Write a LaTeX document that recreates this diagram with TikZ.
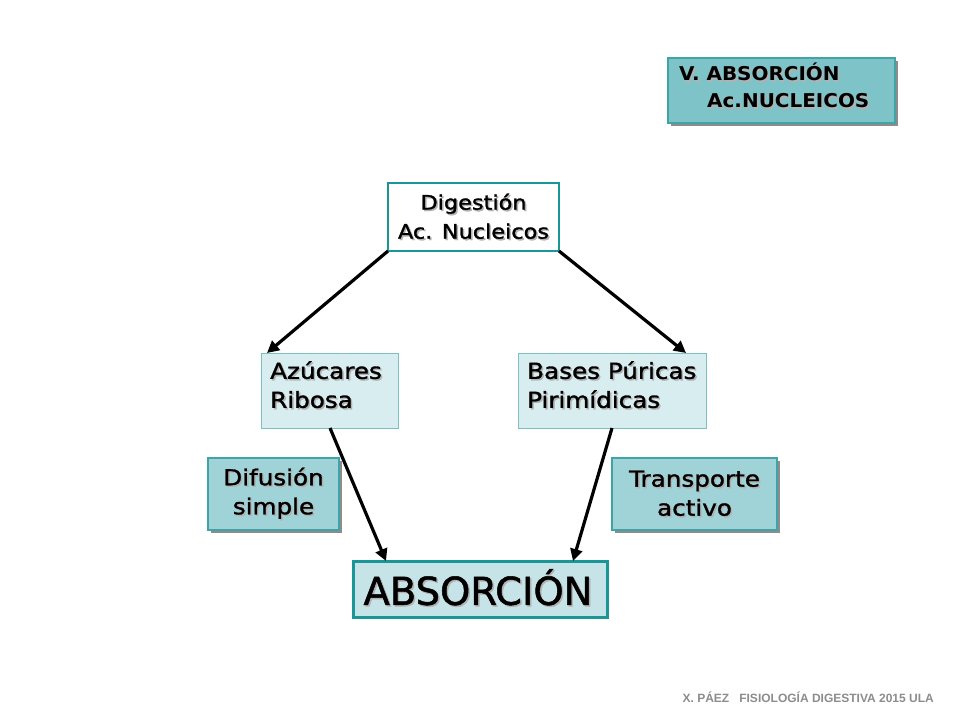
\documentclass[tikz,border=0pt]{standalone}
\usepackage{fontspec}
\setmainfont{DejaVu Sans}
\newfontfamily\wide[FakeStretch=1.12,FakeBold=1.3]{DejaVu Sans}
\newfontfamily\widebf[FakeStretch=1.05]{DejaVu Sans Bold}
\newfontfamily\bigf[FakeBold=1.3]{DejaVu Sans}
\newfontfamily\footfont{Liberation Sans Bold}
\usetikzlibrary{shadows,arrows.meta}
\definecolor{tealA}{HTML}{1A9696}
\definecolor{tealB}{HTML}{3FA3A8}
\definecolor{tealC}{HTML}{7CC0C4}
\definecolor{fillTitle}{HTML}{7DC3C8}
\definecolor{fillMid}{HTML}{9FD3D7}
\definecolor{fillLight}{HTML}{D8EDEF}
\definecolor{fillAbs}{HTML}{C6E4E7}
\newcommand{\shd}[1]{\makebox[0pt][l]{\hspace{1.5pt}\raisebox{-1.5pt}{\textcolor{black!30}{#1}}}#1}
\tikzset{
  base/.style={anchor=north west, inner sep=0pt, outer sep=0pt},
  shad/.style={drop shadow={shadow xshift=3pt, shadow yshift=-3pt, fill=black!45, opacity=1}},
  titlebox/.style={base, draw=tealB, line width=2pt, fill=fillTitle, shad},
  digbox/.style={base, draw=tealA, line width=2.5pt, fill=white},
  lightbox/.style={base, draw=tealC, line width=1pt, fill=fillLight},
  midbox/.style={base, draw=tealB, line width=2pt, fill=fillMid, shad},
  absbox/.style={base, draw=tealA, line width=3pt, fill=fillAbs},
  arr/.style={line width=3.2pt, -{Triangle[length=12pt,width=12pt]}},
  txt/.style={font=\wide\fontsize{21}{29}\selectfont, align=center},
}
\begin{document}
\begin{tikzpicture}[x=1pt,y=-1pt]
\useasboundingbox (0,0) rectangle (960,720);
% title box
\node[titlebox, minimum width=227pt, minimum height=65pt] (title) at (668,58) {};
\node[anchor=north west, inner sep=0pt, align=left, font=\widebf\fontsize{19}{27}\selectfont] (titletxt) at (679,63)
  {\shd{V. ABSORCIÓN}\\\hspace{28pt}\shd{Ac.NUCLEICOS}};
% digestion
\node[digbox, minimum width=171pt, minimum height=68pt] (dig) at (388,183) {};
\node[txt, font=\wide\fontsize{20}{29}\selectfont] (digtxt) at (473.5,217) {\shd{Digestión}\\\shd{Ac. Nucleicos}};
% azucares
\node[lightbox, minimum width=137pt, minimum height=75pt] (azu) at (261,353) {};
\node[anchor=north west, inner sep=0pt, align=left, font=\wide\fontsize{22}{29}\selectfont] (azutxt) at (270,361) {\shd{Azúcares}\\\shd{Ribosa}};
% bases
\node[lightbox, minimum width=188pt, minimum height=75pt] (bas) at (518,353) {};
\node[anchor=north west, inner sep=0pt, align=left, font=\wide\fontsize{22}{29}\selectfont] (bastxt) at (527,361) {\shd{Bases Púricas}\\\shd{Pirimídicas}};
% difusion
\node[midbox, minimum width=131pt, minimum height=72pt] (dif) at (208,458) {};
\node[txt, font=\wide\fontsize{22}{29}\selectfont] (diftxt) at (273.5,494) {\shd{Difusión}\\\shd{simple}};
% transporte
\node[midbox, minimum width=165pt, minimum height=72pt] (tra) at (612,458) {};
\node[txt, font=\wide\fontsize{22}{29}\selectfont] (tratxt) at (694.5,494) {\shd{Transporte}\\\shd{activo}};
% absorcion
\node[absbox, minimum width=254pt, minimum height=56pt] (abs) at (353,561) {};
\node[font=\bigf\fontsize{38.5}{44}\selectfont] (abstxt) at (478,588) {\shd{ABSORCIÓN}};
% arrows
\draw[arr] (dig.south west) -- ([xshift=6pt]azu.north west);
\draw[arr] (dig.south east) -- ([xshift=-20pt]bas.north east);
\draw[arr] ([xshift=69pt]azu.south west) -- ([xshift=33pt]abs.north west);
\draw[arr] ([xshift=94pt]bas.south west) -- ([xshift=220pt]abs.north west);
% footer
\node[anchor=east, inner sep=0pt, text=black!45, font=\footfont\fontsize{12}{14}\selectfont] (foot) at (934,697) {X. PÁEZ\ \ \ FISIOLOGÍA DIGESTIVA 2015 ULA};
\end{tikzpicture}
\end{document}
